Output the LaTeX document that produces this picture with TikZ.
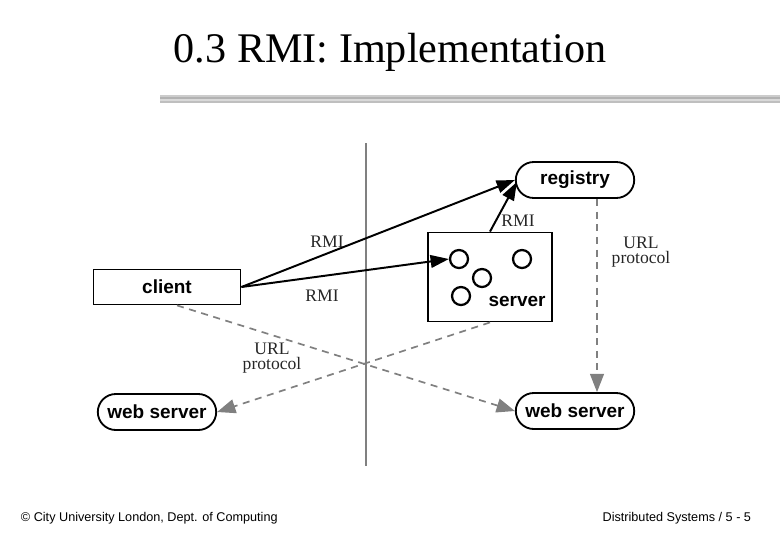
\documentclass[tikz,border=0pt]{standalone}
\usepackage{fontspec}
\setmainfont{Liberation Serif}
\newfontfamily\sfont{Liberation Sans}
\usetikzlibrary{positioning,shapes,arrows.meta,calc}
\begin{document}
\begin{tikzpicture}[x=0.025cm, y=-0.025cm,
    box/.style={draw, line width=1.3pt, rectangle, font=\sfont\bfseries\fontsize{13.5}{15}\selectfont},
    pill/.style={draw, line width=1.3pt, rounded rectangle, minimum width=3.1cm, minimum height=0.9cm, inner sep=2pt, font=\sfont\bfseries\fontsize{13.5}{15}\selectfont},
    lbl/.style={font=\fontsize{12.5}{13}\selectfont, align=center, gray!30!black},
    rmi/.style={-{Triangle[length=13pt,width=9pt]}, line width=1.4pt},
    url/.style={-{Triangle[length=13pt,width=10pt]}, dash pattern=on 5pt off 4pt, gray, line width=1.2pt}]
    \useasboundingbox (0,0) rectangle (780,540);
    % Title and rule
    \node (title) at (390,52) {\fontsize{30}{32}\selectfont 0.3 RMI: Implementation};
    \foreach \y/\c in {96/40,98/60,100/30,102/50}
      \draw [gray!\c, line width=1.2pt] (160,\y) -- (780,\y);
    % Divider
    \draw [gray, line width=2pt] (366,143) -- (366,466);
    % Nodes
    \node [pill] (registry) at (575,180) {registry};
    \node [box, minimum width=3.675cm, minimum height=0.875cm] (client) at (167,287) {client};
    \node [box, minimum width=3.1cm, minimum height=2.225cm] (server) at (490,277) {};
    \node [font=\sfont\bfseries\fontsize{13.5}{15}\selectfont] (srvtext) at (517,301) {server};
    \foreach \n/\x/\y in {o1/459/259, o2/522/259, o3/482/278, o4/461/296}
      \node [draw, line width=1.6pt, circle, minimum size=0.45cm, inner sep=0pt] (\n) at (\x,\y) {};
    \node [pill] (wsleft) at (157,412) {web server};
    \node [pill] (wsright) at (575,411) {web server};
    % Labels
    \node [lbl] (r1) at (327,242) {RMI};
    \node [lbl] (r2) at (322,296) {RMI};
    \node [lbl] (r3) at (518,221) {RMI};
    \node [lbl] (u1) at (272,358) {URL\\[-2pt]protocol};
    \node [lbl] (u2) at (641,252) {URL\\[-2pt]protocol};
    % Arrows
    \draw [rmi] (client.east) -- (registry.west);
    \draw [rmi] (client.east) -- (o1.west);
    \draw [rmi] (server.north) -- ($(registry.west)+(2,2)$);
    \draw [url] ($(client.south)+(10,0)$) -- (wsright.west);
    \draw [url] (server.south) -- (wsleft.east);
    \draw [url, line width=0.8pt] ($(registry.south)+(22,0)$) -- ($(wsright.north)+(22,0)$);
    % Footer
    \node [anchor=west, font=\sfont\fontsize{9}{10}\selectfont] (foot1) at (16,518) {\textcopyright{} City University London, Dept. of Computing};
    \node [anchor=east, font=\sfont\fontsize{9}{10}\selectfont] (foot2) at (756,518) {Distributed Systems / 5 - 5};
\end{tikzpicture}
\end{document}
